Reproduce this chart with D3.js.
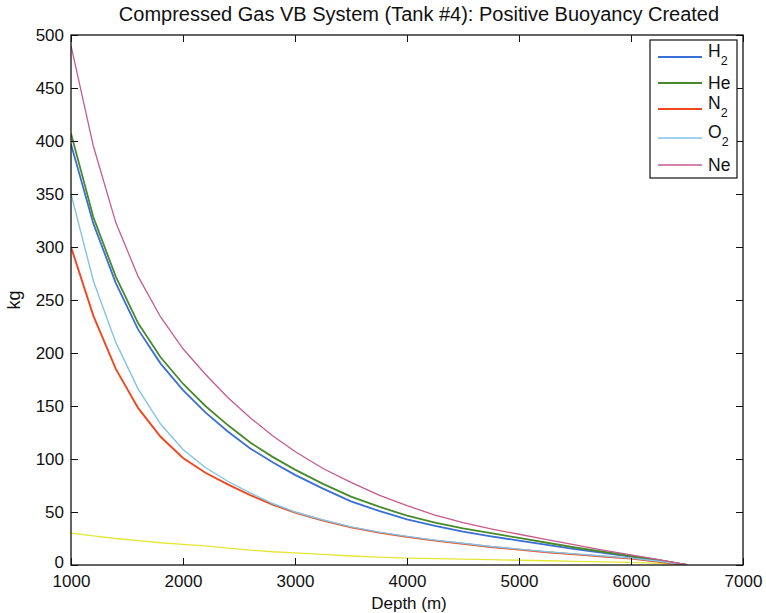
<!DOCTYPE html>
<html>
<head>
<meta charset="utf-8">
<script src="https://cdn.jsdelivr.net/npm/d3@7"></script>
<style>
  body { margin: 0; background: #fff; }
  text { font-family: "Liberation Sans", Arial, Helvetica, sans-serif; fill: #111; }
</style>
</head>
<body>
<svg id="chart" width="766" height="613"></svg>
<script>
// depth samples (m)
var depth = [1000, 1200, 1400, 1600, 1800, 2000, 2200, 2400, 2600, 2800, 3000, 3250, 3500,
    3750, 4000, 4250, 4500, 4750, 5000, 5250, 5500, 5750, 6000, 6250, 6500];

// positive buoyancy (kg)
var h2 = [397, 322, 266, 222, 190, 165, 144, 126, 110, 97, 85, 72, 60, 51, 43, 37, 31.5, 27, 23, 19, 15, 11.5, 8, 4, 0];
var he = [407, 328, 272, 228, 196, 171, 150, 132, 115.5, 102, 90, 76.5, 64.5, 55, 46.5, 40, 34.5, 30, 25.5, 21, 16.5, 12.5, 8.5, 4.5, 0];
var n2 = [300, 235, 185, 148, 121, 101, 87, 76, 66, 57, 49.5, 42, 35.5, 30.5, 26.5, 23, 20, 17, 14.5, 12, 10, 8, 6, 3, 0];
var o2 = [350, 268, 210, 166, 133, 109, 92, 79, 68, 58, 50, 42.5, 36, 31, 27, 23.5, 20.5, 17.5, 15, 12.5, 10.5, 8.5, 6.5, 3.5, 0];
var ne = [490, 395, 323, 272, 234, 204, 180, 158, 139, 122, 107, 91, 78, 66, 56, 47, 40, 34, 29, 24, 19, 14, 9.5, 5, 0];
var other = [30, 27.5, 25, 23, 21, 19.5, 18, 16, 14, 12.5, 11.5, 10, 8.5, 7.5, 6.5, 6, 5.5, 5, 4.5, 4, 3.5, 3, 2.5, 1.5, 0];

var xTicks = [1000, 2000, 3000, 4000, 5000, 6000, 7000];
var yTicks = [0, 50, 100, 150, 200, 250, 300, 350, 400, 450, 500];

var series = [
    {name: 'H', sub: '2', values: h2, color: '#3b6fd6', width: 1.8},
    {name: 'He', sub: '', values: he, color: '#4a8a2c', width: 1.8},
    {name: 'N', sub: '2', values: n2, color: '#f0481c', width: 1.9},
    {name: 'O', sub: '2', values: o2, color: '#84c3e4', width: 1.4},
    {name: 'Ne', sub: '', values: ne, color: '#c65b8c', width: 1.3}
];
var extra = {values: other, color: '#e4e636', width: 1.3};

var box = {left: 71, right: 743, top: 35, bottom: 565};

var svg = d3.select('#chart');

var x = d3.scaleLinear().domain([1000, 7000]).range([box.left, box.right]);
var y = d3.scaleLinear().domain([0, 500]).range([box.bottom, box.top]);

svg.append('clipPath').attr('id', 'clip')
    .append('rect')
    .attr('x', box.left).attr('y', box.top)
    .attr('width', box.right - box.left).attr('height', box.bottom - box.top);

var line = d3.line()
    .x(function(d, i) { return x(depth[i]); })
    .y(function(d) { return y(d); });

var plot = svg.append('g').attr('clip-path', 'url(#clip)');

// yellow unlabeled curve first, then the gases
plot.append('path')
    .attr('d', line(extra.values))
    .attr('fill', 'none')
    .attr('stroke', extra.color)
    .attr('stroke-width', extra.width);

series.forEach(function(s) {
    plot.append('path')
        .attr('d', line(s.values))
        .attr('fill', 'none')
        .attr('stroke', s.color)
        .attr('stroke-width', s.width);
});

// axes, MATLAB style: inward ticks on all four sides
var tickFont = '17px';
svg.append('g')
    .attr('transform', 'translate(0,' + box.bottom + ')')
    .call(d3.axisBottom(x).tickValues(xTicks).tickSizeInner(-7).tickSizeOuter(0).tickPadding(10).tickFormat(d3.format('d')))
    .call(function(g) {
        g.select('.domain').remove();
        g.selectAll('text').style('font-size', tickFont).attr('fill', '#111');
        g.selectAll('line').attr('stroke', '#111');
    });
svg.append('g')
    .attr('transform', 'translate(0,' + box.top + ')')
    .call(d3.axisTop(x).tickValues(xTicks).tickSizeInner(-7).tickSizeOuter(0).tickFormat(''))
    .call(function(g) {
        g.select('.domain').remove();
        g.selectAll('line').attr('stroke', '#111');
    });
svg.append('g')
    .attr('transform', 'translate(' + box.left + ',0)')
    .call(d3.axisLeft(y).tickValues(yTicks).tickSizeInner(-7).tickSizeOuter(0).tickPadding(7))
    .call(function(g) {
        g.select('.domain').remove();
        g.selectAll('text').style('font-size', tickFont).attr('fill', '#111');
        // lift the "0" a little so it clears the 1000 below it
        g.selectAll('text').filter(function(d) { return d === 0; }).attr('y', -3);
        g.selectAll('line').attr('stroke', '#111');
    });
svg.append('g')
    .attr('transform', 'translate(' + box.right + ',0)')
    .call(d3.axisRight(y).tickValues(yTicks).tickSizeInner(-7).tickSizeOuter(0).tickFormat(''))
    .call(function(g) {
        g.select('.domain').remove();
        g.selectAll('line').attr('stroke', '#111');
    });

svg.append('rect')
    .attr('x', box.left).attr('y', box.top)
    .attr('width', box.right - box.left).attr('height', box.bottom - box.top)
    .attr('fill', 'none').attr('stroke', '#111').attr('stroke-width', 1.3);

// labels
svg.append('text')
    .attr('x', 419).attr('y', 21)
    .attr('text-anchor', 'middle')
    .style('font-size', '20px')
    .text('Compressed Gas VB System (Tank #4): Positive Buoyancy Created');

svg.append('text')
    .attr('x', (box.left + box.right) / 2 + 2).attr('y', 608.5)
    .attr('text-anchor', 'middle')
    .style('font-size', '17px')
    .text('Depth (m)');

svg.append('text')
    .attr('transform', 'translate(20,' + ((box.top + box.bottom) / 2) + ') rotate(-90)')
    .attr('text-anchor', 'middle')
    .style('font-size', '18px')
    .text('kg');

// legend
var legend = svg.append('g');
legend.append('rect')
    .attr('x', 650).attr('y', 40).attr('width', 87).attr('height', 138)
    .attr('fill', '#fff').attr('stroke', '#111').attr('stroke-width', 1.2);

var legendY = [57, 83, 109, 138, 165];
series.forEach(function(s, i) {
    var ly = legendY[i];
    legend.append('line')
        .attr('x1', 658).attr('x2', 702)
        .attr('y1', ly).attr('y2', ly)
        .attr('stroke', s.color).attr('stroke-width', s.width);
    var t = legend.append('text')
        .attr('x', 708)
        .attr('y', s.sub ? ly : ly + 5.5)
        .style('font-size', '17.5px')
        .text(s.name);
    if (s.sub) {
        t.append('tspan').attr('dy', 8).style('font-size', '12.5px').text(s.sub);
    }
});
</script>
</body>
</html>
